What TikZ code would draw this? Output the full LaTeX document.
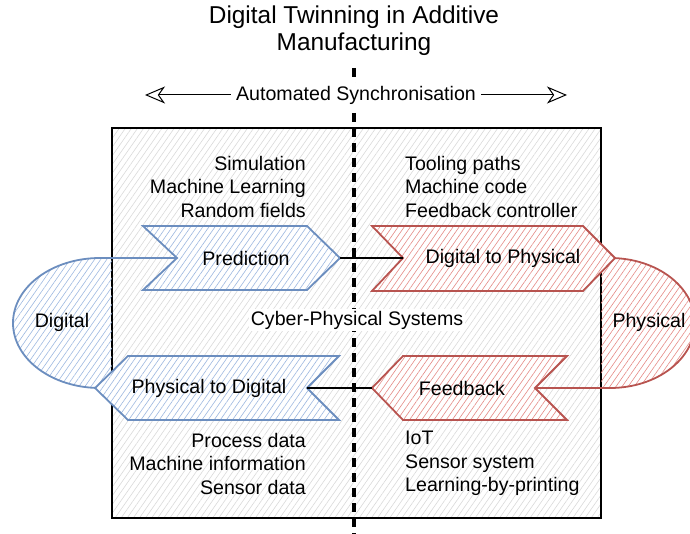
\documentclass[tikz,border=0pt]{standalone}
\usepackage{fontspec}
\setmainfont{Liberation Sans}
\usetikzlibrary{arrows.meta, patterns.meta}

\definecolor{digiblue}{HTML}{6C8EBF}
\definecolor{digihatch}{HTML}{9DB8E0}
\definecolor{physred}{HTML}{B85450}
\definecolor{physhatch}{HTML}{E58A86}

\tikzset{
  lbl/.style={font=\fontsize{19.6}{23.5}\selectfont, inner sep=0pt},
  hatch/.style={pattern={Lines[angle=55,distance=5pt,line width=0.6pt]}},
  bluechev/.style={draw=digiblue, line width=1.8pt, hatch, pattern color=digihatch},
  redchev/.style={draw=physred, line width=1.8pt, hatch, pattern color=physhatch},
  link/.style={line width=1.6pt},
  syncarrow/.tip={Stealth[open, length=20pt, width=17pt, inset=6pt]},
}

\begin{document}
\begin{tikzpicture}[x=1pt, y=-1pt]
\useasboundingbox (0,0) rectangle (690,534);

% title
\node[font=\fontsize{24.4}{27}\selectfont, align=center] (title) at (354,31) {Digital Twinning in Additive\\Manufacturing};

% cyber-physical frame
\draw[line width=1.6pt, hatch, pattern color=black!15] (112,128) rectangle (601,518);

% digital and physical loops
\fill[hatch, pattern color=digihatch] (112,258) -- (100,258) arc (270:90:87 and 65) -- (95,388) -- (112,388) -- cycle;
\draw[draw=digiblue, line width=1.8pt] (177,258) -- (100,258) arc (270:90:87 and 65) -- (95,388);
\fill[hatch, pattern color=physhatch] (601,258) -- (610,258) arc (-90:90:85 and 65) -- (601,388) -- cycle;
\draw[draw=physred, line width=1.8pt] (615,258) -- (610,258) arc (-90:90:85 and 65) -- (535,388);

% split between digital and physical side
\coordinate (splittop) at (354,68);
\coordinate (splitbot) at (354,534);
\draw[line width=3.2pt, dash pattern=on 9pt off 6pt] (splittop) -- (splitbot);

% chevrons
\fill[white] (143,226) -- (307,226) -- (340,258) -- (307,290) -- (143,290) -- (177,258) -- cycle;
\draw[bluechev] (143,226) -- (307,226) -- (340,258) -- (307,290) -- (143,290) -- (177,258) -- cycle;
\fill[white] (372,226) -- (583,226) -- (615,258) -- (583,291) -- (372,291) -- (403,258) -- cycle;
\draw[redchev] (372,226) -- (583,226) -- (615,258) -- (583,291) -- (372,291) -- (403,258) -- cycle;
\fill[white] (128,356) -- (339,356) -- (307,388) -- (339,420) -- (128,420) -- (95,388) -- cycle;
\draw[bluechev] (128,356) -- (339,356) -- (307,388) -- (339,420) -- (128,420) -- (95,388) -- cycle;
\fill[white] (403,356) -- (567,356) -- (535,388) -- (567,420) -- (403,420) -- (372,388) -- cycle;
\draw[redchev] (403,356) -- (567,356) -- (535,388) -- (567,420) -- (403,420) -- (372,388) -- cycle;

\coordinate (predtip) at (340,258);
\coordinate (dtopnotch) at (403,258);
\coordinate (feedtip) at (372,388);
\coordinate (ptodnotch) at (307,388);

\node[lbl] (pred) at (246,258) {Prediction};
\node[lbl] (dtop) at (503,258) {Digital to Physical};
\node[lbl] (ptod) at (209,388) {Physical to Digital};
\node[lbl] (feed) at (462,388) {Feedback};

% links across the split
\draw[link] (predtip) -- (dtopnotch);
\draw[link] (feedtip) -- (ptodnotch);

% synchronisation arrow
\coordinate (syncleft) at (145,95);
\coordinate (syncright) at (567,95);
\draw[line width=1pt, syncarrow-syncarrow] (syncleft) -- node[lbl, fill=white, inner xsep=5pt, inner ysep=3pt] (sync) {Automated Synchronisation} (syncright);

% labels
\node[lbl, fill=white, inner sep=2pt] (cps) at (357,320) {Cyber-Physical Systems};
\node[lbl] (digital) at (62,322) {Digital};
\node[lbl] (physical) at (649,322) {Physical};

\node[lbl, anchor=east, align=right] (digitop) at (306,186.5) {Simulation\\Machine Learning\\Random fields};
\node[lbl, anchor=west, align=left] (phystop) at (405,186.5) {Tooling paths\\Machine code\\Feedback controller};
\node[lbl, anchor=east, align=right] (digibot) at (306,463.5) {Process data\\Machine information\\Sensor data};
\node[lbl, anchor=west, align=left] (physbot) at (405,463.5) {IoT\\Sensor system\\Learning-by-printing};
\end{tikzpicture}
\end{document}
